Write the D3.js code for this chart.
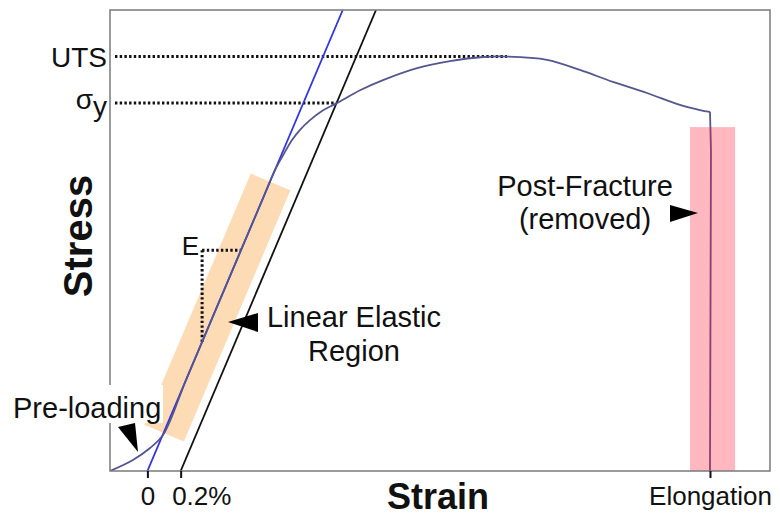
<!DOCTYPE html>
<html><head><meta charset="utf-8">
<script src="https://cdn.jsdelivr.net/npm/d3@7"></script>
<style>body{margin:0;background:#fff} text{font-family:"Liberation Sans",Arial,sans-serif;fill:#111}</style>
</head><body><svg id="c" width="780" height="517"></svg>
<script>
// ---- data (strain in %, stress in arbitrary units 0..100) ----
const curveStrain = [-0.225, -0.087, 0.016, 0.094, 0.235, 0.47, 0.705, 0.765, 0.816, 0.870, 0.918, 0.978, 1.050, 1.140, 1.279, 1.417, 1.622, 1.820, 2.019, 2.163, 2.403, 2.602, 2.800, 3.005, 3.203, 3.324, 3.384, 3.39, 3.384];
const curveStress = [0, 2.4, 5.0, 7.8, 20, 40, 60, 65.1, 68.5, 71.8, 74.0, 76.1, 78.1, 79.8, 82.6, 84.8, 87.4, 88.9, 89.8, 89.9, 89.2, 87.0, 84.4, 82.0, 79.4, 78.3, 77.9, 69.6, 0];
const tickValues = [0, 0.2, 3.384];
const tickLabels = ["0", "0.2%", "Elongation"];
const modulus = 85.1;          // slope of the elastic line
const offsetStrain = 0.2;      // 0.2% offset
const yieldStress = 79.8;      // sigma_y
const utsStress = 89.9;        // UTS
const utsStrain = 2.163;
const elasticBand = [8.2, 62.7];        // stress range of highlighted band
const fractureBand = [3.264, 3.535, 74.6]; // strain from, strain to, stress top
const slopeTriangle = [28, 47.9];       // stress at bottom / top of E triangle
const stressDomain = [0, 100];
const strainDomain = [-0.225, 3.745];

(function(){
const svg = d3.select("#c");
const M = {l:110, r:10, t:10, b:46};
const W = 780, H = 517;
const x = d3.scaleLinear().domain(strainDomain).range([M.l, W - M.r]);
const y = d3.scaleLinear().domain(stressDomain).range([H - M.b, M.t]);

svg.append("defs").append("clipPath").attr("id","clip")
  .append("rect").attr("x", x.range()[0]).attr("y", y.range()[1])
  .attr("width", x.range()[1]-x.range()[0]).attr("height", y.range()[0]-y.range()[1]);

const g = svg.append("g").attr("clip-path","url(#clip)");

// elastic band (orange)
const bandStrain = elasticBand.map(s => s / modulus + 0.004);
g.append("line")
  .attr("x1", x(bandStrain[0])).attr("y1", y(elasticBand[0]))
  .attr("x2", x(bandStrain[1])).attr("y2", y(elasticBand[1]))
  .attr("stroke", "#fddcb5").attr("stroke-width", 43);

// dotted guides
function dotted(x1,y1,x2,y2){
  g.append("line").attr("x1",x1).attr("y1",y1).attr("x2",x2).attr("y2",y2)
   .attr("stroke","#111").attr("stroke-width",3).attr("stroke-dasharray","2.4 2.3");
}
dotted(x(strainDomain[0])+5, y(utsStress), x(utsStrain), y(utsStress));
dotted(x(strainDomain[0])+5, y(yieldStress), x(yieldStress/modulus + offsetStrain), y(yieldStress));
// E triangle
const eS0 = slopeTriangle[0]/modulus, eS1 = slopeTriangle[1]/modulus;
dotted(x(eS0), y(slopeTriangle[1]), x(eS1), y(slopeTriangle[1]));
dotted(x(eS0), y(slopeTriangle[1]), x(eS0), y(slopeTriangle[0]));

// elastic line (blue) and offset line (black)
const sMax = stressDomain[1];
g.append("line").attr("x1", x(0)).attr("y1", y(0)).attr("x2", x(sMax/modulus)).attr("y2", y(sMax))
  .attr("stroke", "#3434e0").attr("stroke-width", 1.8);
g.append("line").attr("x1", x(offsetStrain)).attr("y1", y(0)).attr("x2", x(sMax/modulus + offsetStrain)).attr("y2", y(sMax))
  .attr("stroke", "#111").attr("stroke-width", 1.8);

// stress-strain curve
const pts = curveStrain.map((s,i)=>[s, curveStress[i]]);
const lineA = d3.line().x(d=>x(d[0])).y(d=>y(d[1])).curve(d3.curveCatmullRom.alpha(0.5));
g.append("path").datum(pts.slice(0, 27)).attr("d", lineA)
  .attr("fill","none").attr("stroke","#55558f").attr("stroke-width",1.8);
g.append("path").datum(pts.slice(26)).attr("d", d3.line().x(d=>x(d[0])).y(d=>y(d[1])))
  .attr("fill","none").attr("stroke","#55558f").attr("stroke-width",1.8);

// fracture band (pink, translucent)
g.append("rect").attr("x", x(fractureBand[0])).attr("y", y(fractureBand[2]))
  .attr("width", x(fractureBand[1]) - x(fractureBand[0]))
  .attr("height", y(0) - y(fractureBand[2]))
  .attr("fill", "#ff1030").attr("opacity", 0.3);

// frame
svg.append("rect").attr("x", x.range()[0]).attr("y", y.range()[1])
  .attr("width", x.range()[1]-x.range()[0]).attr("height", y.range()[0]-y.range()[1])
  .attr("fill","none").attr("stroke","#7a7a7a").attr("stroke-width",1.5);

// bottom axis ticks
const ax = svg.append("g").attr("transform", `translate(0,${y(0)})`)
  .call(d3.axisBottom(x).tickValues(tickValues).tickFormat((d,i)=>tickLabels[i]).tickSize(7).tickPadding(9));
ax.select(".domain").remove();
ax.selectAll(".tick line").attr("stroke","#111").attr("stroke-width",2);
ax.selectAll(".tick text").attr("font-size",26).attr("font-family","Liberation Sans, Arial, sans-serif").attr("fill","#111");
ax.selectAll(".tick text").filter((d,i)=>i===1).attr("text-anchor","start").attr("dx",-9);

// axis titles
svg.append("text").attr("x", 438).attr("y", 509).attr("text-anchor","middle")
  .attr("font-size",36).attr("font-weight","bold").text("Strain");
svg.append("text").attr("transform","translate(92,236) rotate(-90)").attr("text-anchor","middle")
  .attr("font-size",40).attr("font-weight","bold").text("Stress");

// y labels
svg.append("text").attr("x", 107).attr("y", y(utsStress)+10).attr("text-anchor","end")
  .attr("font-size",28).text("UTS");
const sy = svg.append("text").attr("x", 107).attr("y", y(yieldStress)+6).attr("text-anchor","end").attr("font-size",28);
sy.append("tspan").text("σ");
sy.append("tspan").attr("dy",7).text("y");

// E label
svg.append("text").attr("x", x(eS0)-3).attr("y", y(slopeTriangle[1])+5).attr("text-anchor","end")
  .attr("font-size",26).text("E");

// pre-loading label with white box
svg.append("rect").attr("x", 8).attr("y", 385).attr("width", 155).attr("height", 38).attr("fill","#fff");
svg.append("text").attr("x", 13).attr("y", 418).attr("font-size",29).text("Pre-loading");

// other labels
const le = svg.append("text").attr("text-anchor","middle").attr("font-size",29);
le.append("tspan").attr("x",354).attr("y",327).text("Linear Elastic");
le.append("tspan").attr("x",354).attr("y",361).text("Region");
const pf = svg.append("text").attr("text-anchor","middle").attr("font-size",29);
pf.append("tspan").attr("x",585).attr("y",196).text("Post-Fracture");
pf.append("tspan").attr("x",585).attr("y",229).text("(removed)");

// arrows (triangles anchored at tip)
function arrow(tx, ty, p){
  svg.append("path").attr("d", "M" + [[0,0]].concat(p).map(q=>[tx+q[0], ty+q[1]].join(",")).join("L") + "Z")
    .attr("fill","#000");
}
arrow(138, 452, [[-20,-25],[-3,-29]]);
arrow(228, 322, [[30,-9],[30,10]]);
arrow(698, 213, [[-28,-8],[-28,9]]);
})();
</script></body></html>
